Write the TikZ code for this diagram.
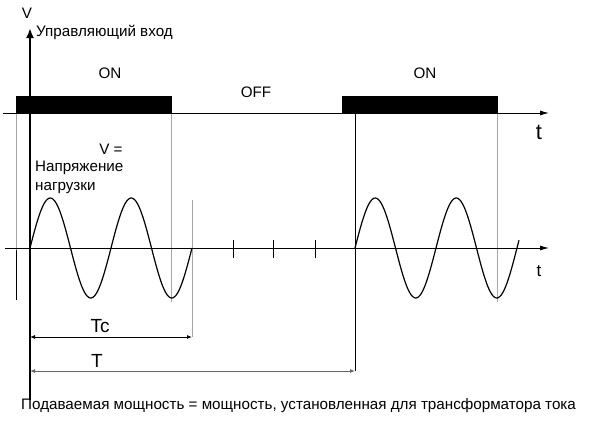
\documentclass[tikz,border=0pt]{standalone}
\usepackage{fontspec}
\setmainfont{Liberation Sans}
\usetikzlibrary{arrows.meta}
\begin{document}
\begin{tikzpicture}[x=1pt,y=-1pt,
  lbl/.style={inner sep=0pt,font=\fontsize{15.2}{17}\selectfont},
  biglbl/.style={inner sep=0pt,font=\fontsize{19}{21}\selectfont},
  guide/.style={draw=gray!70,line width=0.6pt},
  axisline/.style={draw=black,line width=0.9pt},
  bar/.style={fill=black,draw=black},
  dim/.style={line width=0.9pt,{Latex[length=5pt,width=4pt]}-{Latex[length=5pt,width=4pt]}}]
\useasboundingbox (0,0) rectangle (595,421);
% coordinates
\coordinate (vbot) at (30,400);
\coordinate (vtop) at (30,28);
\coordinate (ua) at (3,113);
\coordinate (ub) at (549,113);
\coordinate (la) at (5,248);
\coordinate (lb) at (549,248);
% ON bars
\node[bar,minimum width=155pt,minimum height=17pt,inner sep=0pt,anchor=south west] (on1) at (16,113) {};
\node[bar,minimum width=155pt,minimum height=17pt,inner sep=0pt,anchor=south west] (on2) at (342,113) {};
% guide lines
\coordinate (g1a) at (16,113); \coordinate (g1b) at (16,300);
\coordinate (g2a) at (171,113); \coordinate (g2b) at (171,302);
\coordinate (g3a) at (192,200); \coordinate (g3b) at (192,337);
\coordinate (g4a) at (497,113); \coordinate (g4b) at (497,302);
\coordinate (g5a) at (355,113); \coordinate (g5b) at (355,371);
\draw[guide] (g1a) -- (g1b);
\draw[draw=black,line width=0.8pt] (16,250) -- (g1b);
\draw[guide] (g2a) -- (g2b);
\draw[guide] (g3a) -- (g3b);
\draw[guide] (g4a) -- (g4b);
\draw[draw=black,line width=0.8pt] (g5a) -- (g5b);
% axes
\draw[axisline,-{Latex[length=9pt,width=5pt]}] (ua) -- (ub);
\draw[axisline,-{Latex[length=9pt,width=5pt]}] (la) -- (lb);
\draw[line width=2pt,-{Latex[length=10pt,width=8pt]}] (vbot) -- (vtop);
% ticks
\foreach \tx in {233,273,315} \draw[line width=0.8pt] (\tx,240) -- (\tx,258);
% sines
\draw[line width=1.2pt] plot[domain=0:162,samples=120] ({30+\x},{248-50*sin(\x*4.44444)});
\draw[line width=1.2pt] plot[domain=0:164,samples=120] ({355+\x},{248-50*sin(\x*4.44444)});
% dimensions
\coordinate (tcl) at (30,337); \coordinate (tcr) at (192,337);
\coordinate (tl) at (30,371); \coordinate (tr) at (355,371);
\draw[dim] (tcl) -- (tcr);
\draw[dim,draw=gray!80!black] (tl) -- (tr);
% labels
\node[lbl,anchor=center] (vlab) at (27,13) {V};
\node[lbl,anchor=west] (ctrl) at (36,32) {Управляющий вход};
\node[lbl] (on1t) at (110,73) {ON};
\node[lbl] (offt) at (256,92) {OFF};
\node[lbl] (on2t) at (425,73) {ON};
\node[biglbl,font=\fontsize{22}{24}\selectfont] (t1) at (539,132) {t};
\node[lbl,font=\fontsize{17}{19}\selectfont] (t2) at (539,271) {t};
\node[lbl] (veq) at (111,149) {V =};
\node[lbl,anchor=west] (napr) at (35,168) {Напряжение};
\node[lbl,anchor=west] (nagr) at (35,188) {нагрузки};
\node[biglbl] (tc) at (100,326) {Tc};
\node[biglbl] (tt) at (97,361) {T};
\node[lbl,anchor=west] (bottom) at (21,406) {Подаваемая мощность = мощность, установленная для трансформатора тока};
\end{tikzpicture}
\end{document}
